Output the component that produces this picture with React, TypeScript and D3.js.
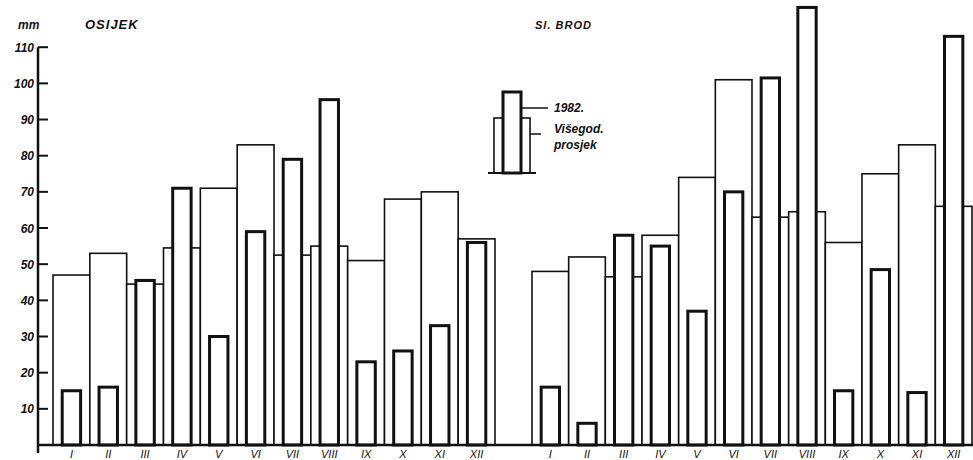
import { useEffect, useRef } from "react";
import * as d3 from "d3";

// months (roman numerals as printed)
const months = ["I", "II", "III", "IV", "V", "VI", "VII", "VIII", "IX", "X", "XI", "XII"];

// Osijek, mm
const osijekAvg = [47, 53, 44.5, 54.5, 71, 83, 52.5, 55, 51, 68, 70, 57];
const osijek1982 = [15, 16, 45.5, 71, 30, 59, 79, 95.5, 23, 26, 33, 56];

// Sl. Brod, mm
const brodAvg = [48, 52, 46.5, 58, 74, 101, 63, 64.5, 56, 75, 83, 66];
const brod1982 = [16, 6, 58, 55, 37, 70, 101.5, 121, 15, 48.5, 14.5, 113];

const yTicks = [10, 20, 30, 40, 50, 60, 70, 80, 90, 100, 110];

const W = 973;
const H = 460;

export default function App() {
  const ref = useRef<HTMLDivElement>(null);

  useEffect(() => {
    d3.select(ref.current).select("svg").remove();

    const svg = d3
      .select(ref.current)
      .append("svg")
      .attr("width", W)
      .attr("height", H)
      .style("position", "absolute")
      .style("left", 0)
      .style("top", 0)
      .style("background", "#fff");

    const font = "'Liberation Sans', Arial, sans-serif";
    const y = d3.scaleLinear().domain([0, 110]).range([445, 47.2]);
    const axisX = 38;

    // y axis
    svg.append("line").attr("x1", axisX).attr("x2", axisX).attr("y1", y(110)).attr("y2", 453)
      .attr("stroke", "#111").attr("stroke-width", 2.5);
    svg.selectAll(".ytick").data(yTicks).enter().append("line")
      .attr("x1", axisX).attr("x2", axisX + 10)
      .attr("y1", (d) => y(d)).attr("y2", (d) => y(d))
      .attr("stroke", "#111").attr("stroke-width", 2);
    svg.selectAll(".ylab").data(yTicks).enter().append("text")
      .attr("x", 34).attr("y", (d) => y(d) + 4.5)
      .attr("text-anchor", "end")
      .attr("font-family", font).attr("font-style", "italic").attr("font-weight", "bold")
      .attr("font-size", 12).attr("fill", "#111")
      .text((d) => d);

    svg.append("text").attr("x", 18).attr("y", 29).attr("font-family", font)
      .attr("font-style", "italic").attr("font-weight", "bold").attr("font-size", 12).attr("fill", "#111").text("mm");

    const drawStation = (name: string, x0: number, x1: number, avg: number[], yr: number[], titleX: number, titleSize: number) => {
      const x = d3.scaleBand<string>().domain(months).range([x0, x1]).padding(0);
      const bw = x.bandwidth();
      const g = svg.append("g");

      g.selectAll(".avg").data(avg).enter().append("rect")
        .attr("x", (_, i) => x(months[i]) as number)
        .attr("y", (d) => y(d))
        .attr("width", bw)
        .attr("height", (d) => y(0) - y(d))
        .attr("fill", "#fff").attr("stroke", "#111").attr("stroke-width", 1.6);

      g.selectAll(".yr").data(yr).enter().append("rect")
        .attr("x", (_, i) => (x(months[i]) as number) + bw * 0.25)
        .attr("y", (d) => y(d))
        .attr("width", bw * 0.5)
        .attr("height", (d) => y(0) - y(d))
        .attr("fill", "#fff").attr("stroke", "#111").attr("stroke-width", 3);

      g.selectAll(".mlab").data(months).enter().append("text")
        .attr("x", (d) => (x(d) as number) + bw / 2)
        .attr("y", 458)
        .attr("text-anchor", "middle")
        .attr("font-family", font).attr("font-style", "italic").attr("font-size", 11).attr("fill", "#111")
        .text((d) => d);

      svg.append("text").attr("x", titleX).attr("y", 29).attr("font-family", font)
        .attr("font-style", "italic").attr("font-weight", "bold").attr("font-size", titleSize)
        .attr("letter-spacing", 1).attr("fill", "#111").text(name);
    };

    drawStation("OSIJEK", 53, 495, osijekAvg, osijek1982, 85, 13);
    drawStation("Sl. BROD", 532, 972, brodAvg, brod1982, 535, 11);

    // baseline
    svg.append("line").attr("x1", axisX).attr("x2", W).attr("y1", y(0)).attr("y2", y(0))
      .attr("stroke", "#111").attr("stroke-width", 2.5);

    // legend
    const lg = svg.append("g");
    lg.append("rect").attr("x", 494).attr("y", 118).attr("width", 36).attr("height", 55)
      .attr("fill", "#fff").attr("stroke", "#111").attr("stroke-width", 1.6);
    lg.append("rect").attr("x", 503).attr("y", 92).attr("width", 18).attr("height", 81)
      .attr("fill", "#fff").attr("stroke", "#111").attr("stroke-width", 3);
    lg.append("line").attr("x1", 488).attr("x2", 536).attr("y1", 173).attr("y2", 173)
      .attr("stroke", "#111").attr("stroke-width", 2);
    lg.append("line").attr("x1", 521).attr("x2", 548).attr("y1", 108).attr("y2", 108)
      .attr("stroke", "#111").attr("stroke-width", 1.5);
    lg.append("line").attr("x1", 530).attr("x2", 541).attr("y1", 134).attr("y2", 134)
      .attr("stroke", "#111").attr("stroke-width", 1.5);
    lg.append("text").attr("x", 554).attr("y", 112).attr("font-family", font)
      .attr("font-style", "italic").attr("font-weight", "bold").attr("font-size", 12).attr("fill", "#111").text("1982.");
    lg.append("text").attr("x", 554).attr("y", 133).attr("font-family", font)
      .attr("font-style", "italic").attr("font-weight", "bold").attr("font-size", 12).attr("fill", "#111").text("Višegod.");
    lg.append("text").attr("x", 554).attr("y", 149).attr("font-family", font)
      .attr("font-style", "italic").attr("font-weight", "bold").attr("font-size", 12).attr("fill", "#111").text("prosjek");
  }, []);

  return <div ref={ref} className="rainfallChart" />;
}
